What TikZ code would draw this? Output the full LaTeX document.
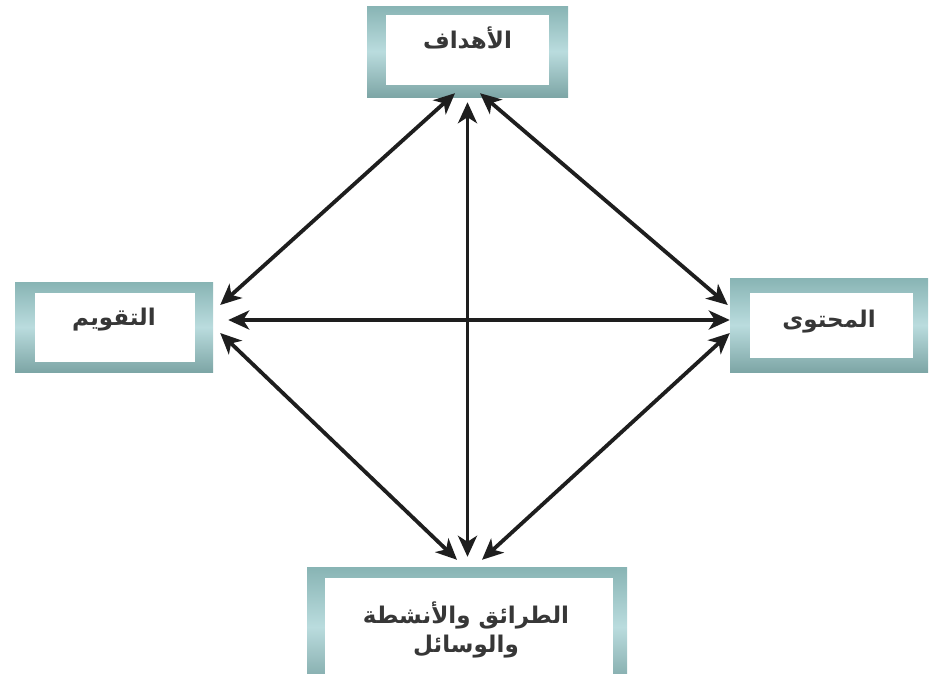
\documentclass[tikz,border=0pt]{standalone}
\usepackage{fontspec}
\usetikzlibrary{arrows.meta}
\TeXXeTstate=1
\newfontfamily\arabicfont[Script=Arabic]{DejaVu Sans}
\definecolor{frameA}{RGB}{136,180,180}
\definecolor{frameB}{RGB}{186,220,222}
\definecolor{inkc}{RGB}{30,30,30}
\definecolor{txtc}{RGB}{55,55,55}
\tikzset{
  framebox/.style={draw=none, inner sep=0pt, top color=frameA, bottom color=frameA!92!black, middle color=frameB},
  innerbox/.style={draw=none, fill=white, inner sep=0pt},
  lbl/.style={font=\arabicfont\bfseries\fontsize{23}{29}\selectfont, text=txtc, align=center, inner sep=0pt},
  arr/.style={draw=inkc, line width=3.8pt, {Stealth[length=21pt,width=19pt,inset=6pt]}-{Stealth[length=21pt,width=19pt,inset=6pt]}}
}
\begin{document}
\begin{tikzpicture}[x=1pt,y=-1pt]
\useasboundingbox (0,0) rectangle (929,673);
% boxes
\node[framebox, minimum width=201pt, minimum height=91pt] (top) at (467.5,51.5) {};
\node[innerbox, minimum width=163pt, minimum height=70pt] (topin) at (467.5,50) {};
\node[lbl] (toplbl) at (467.5,38) {\beginR الأهداف\endR};

\node[framebox, minimum width=198pt, minimum height=90pt] (left) at (114,327) {};
\node[innerbox, minimum width=160pt, minimum height=69pt] (leftin) at (115,327.5) {};
\node[lbl] (leftlbl) at (114,320) {\beginR التقويم\endR};

\node[framebox, minimum width=198pt, minimum height=94pt] (right) at (829,325) {};
\node[innerbox, minimum width=163pt, minimum height=65pt] (rightin) at (831.5,325.5) {};
\node[lbl] (rightlbl) at (829,322) {\beginR المحتوى\endR};

\node[framebox, minimum width=320pt, minimum height=120pt] (bottom) at (467,627) {};
\node[innerbox, minimum width=288pt, minimum height=110pt] (bottomin) at (469,633) {};
\node[lbl] (bottomlbl) at (466,630) {\beginR الطرائق والأنشطة\endR\\\beginR والوسائل\endR};

% connectors
\draw[arr] ([xshift=-12.5pt,yshift=4pt]top.south) -- ([xshift=7pt,yshift=22pt]left.east);
\draw[arr] ([xshift=12.5pt,yshift=4pt]top.south) -- ([xshift=-2pt,yshift=20pt]right.west);
\draw[arr] ([xshift=0pt,yshift=-5pt]top.south) -- ([xshift=0.5pt,yshift=10pt]bottom.north);
\draw[arr] ([xshift=15pt,yshift=7pt]left.east) -- ([xshift=0pt,yshift=5pt]right.west);
\draw[arr] ([xshift=7pt,yshift=-6pt]left.east) -- ([xshift=-10pt,yshift=7pt]bottom.north);
\draw[arr] ([xshift=0pt,yshift=-8pt]right.west) -- ([xshift=15pt,yshift=7pt]bottom.north);
\end{tikzpicture}
\end{document}
